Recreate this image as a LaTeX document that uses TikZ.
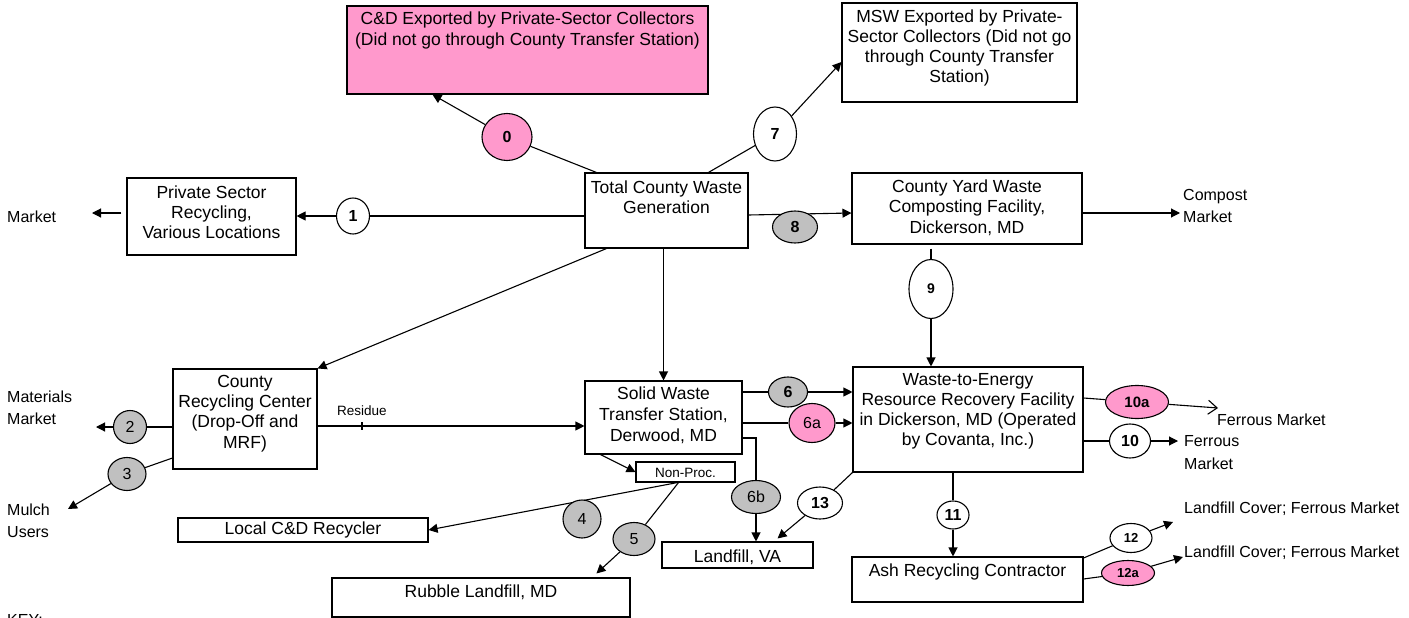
\documentclass[tikz,border=0pt]{standalone}
\usepackage{fontspec}
\setmainfont{Liberation Sans}
\usetikzlibrary{shapes.geometric,arrows.meta,calc}
\pgfdeclarelayer{bg}
\pgfsetlayers{bg,main}
\definecolor{pinkf}{HTML}{FF99CC}
\definecolor{grayf}{HTML}{C0C0C0}
\newcommand\fsz[2]{\fontsize{#1}{#2}\selectfont}
\tikzset{
  box/.style={draw, line width=1.1pt, inner sep=0pt, fill=white},
  bsz/.style 2 args={minimum width=#1pt, minimum height=#2pt},
  txt/.style={font=\fsz{17.5}{20.5}, align=center, inner sep=0pt},
  lab/.style={font=\fsz{16}{22}, align=left, inner sep=0pt, anchor=west},
  num/.style={ellipse, draw, line width=1.1pt, inner sep=0pt, fill=white, font=\bfseries\fsz{16}{16}},
  nrm/.style={font=\fsz{16}{16}},
  arr/.style={line width=1.1pt, -{Triangle[length=9pt,width=9pt]}},
  ln/.style={line width=1.1pt},
}
\begin{document}
\begin{tikzpicture}[x=1pt,y=-1pt]
\useasboundingbox (0,0) rectangle (1409,618);

% boxes
\node[box, bsz={361}{88}, fill=pinkf] (cd) at (527.5,50) {};
\node[box, bsz={235}{99}] (msw) at (959.5,52.5) {};
\node[box, bsz={163}{75}] (tcw) at (666.5,210.5) {};
\node[box, bsz={169}{77}] (psr) at (211.5,216.5) {};
\node[box, bsz={230}{71}] (cy) at (967,208.5) {};
\node[box, bsz={230}{105}] (wte) at (968,419.5) {};
\node[box, bsz={157}{73}] (ws) at (663.5,417.5) {};
\node[box, bsz={144}{100}] (crc) at (245,419) {};
\node[box, bsz={99}{20}] (np) at (685.5,472) {};
\node[box, bsz={250}{24}] (lcd) at (303,530) {};
\node[box, bsz={298}{39}] (rub) at (481,597.5) {};
\node[box, bsz={151}{26}] (lva) at (737.5,555) {};
\node[box, bsz={231}{45}] (ash) at (967.5,579.5) {};

% box texts
\node[txt] (cdt) at (527.5,30.5) {C\&D Exported by Private-Sector Collectors\\(Did not go through County Transfer Station)};
\node[txt, font=\fsz{17.5}{20}] (mswt) at (959.5,48) {MSW Exported by Private-\\Sector Collectors (Did not go\\through County Transfer\\Station)};
\node[txt] (tcwt) at (666.5,197) {Total County Waste\\Generation};
\node[txt, font=\fsz{17.5}{20}] (psrt) at (211.5,212) {Private Sector\\Recycling,\\Various Locations};
\node[txt] (cyt) at (967,207.5) {County Yard Waste\\Composting Facility,\\Dickerson, MD};
\node[txt, font=\fsz{17.5}{20}] (wtet) at (968,411) {Waste-to-Energy\\Resource Recovery Facility\\in Dickerson, MD (Operated\\by Covanta, Inc.)};
\node[txt, font=\fsz{17.5}{21}] (wst) at (663.5,415) {Solid Waste\\Transfer Station,\\Derwood, MD};
\node[txt, font=\fsz{17.5}{20.3}] (crct) at (245,413.5) {County\\Recycling Center\\(Drop-Off and\\MRF)};
\node[txt, font=\fsz{13.5}{14}] (npt) at (685.5,473) {Non-Proc.};
\node[txt] (lcdt) at (303,530) {Local C\&D Recycler};
\node[txt] (rubt) at (481,592) {Rubble Landfill, MD};
\node[txt] (lvat) at (737.5,557) {Landfill, VA};
\node[txt] (asht) at (967.5,572) {Ash Recycling Contractor};

% side labels
\node[lab] (mkt) at (7,217) {Market};
\node[lab] (cmp) at (1183,206) {Compost\\Market};
\node[lab] (mat) at (7,408) {Materials\\Market};
\node[lab] (mul) at (7,520.5) {Mulch\\Users};
\node[lab] (fm1) at (1217,420) {Ferrous Market};
\node[lab, font=\fsz{16}{23}] (fm2) at (1184,452.5) {Ferrous\\Market};
\node[lab] (lc1) at (1184,509) {Landfill Cover; Ferrous Market};
\node[lab] (lc2) at (1184,553) {Landfill Cover; Ferrous Market};
\node[lab] (key) at (7,620) {KEY:};
\node[txt, font=\fsz{13.5}{14}] (resl) at (362,411) {Residue};

% numbered ellipses
\node[num, fill=pinkf, bsz={50}{47}] (c0) at (507,137) {0};
\node[num, bsz={33}{36}] (c1) at (353,216) {1};
\node[num, bsz={43}{54}] (c7) at (775,134) {7};
\node[num, fill=grayf, bsz={45}{32}] (c8) at (795,227) {8};
\node[num, bsz={44}{59}, font=\bfseries\fsz{14}{14}] (c9) at (931,289) {9};
\node[num, fill=grayf, bsz={33}{33}, nrm] (c2) at (130,427) {2};
\node[num, fill=grayf, bsz={38}{33}, nrm] (c3) at (127,474) {3};
\node[num, fill=grayf, bsz={38}{38}, nrm] (c4) at (582,519) {4};
\node[num, fill=grayf, bsz={42}{33}, nrm] (c5) at (634,539) {5};
\node[num, fill=grayf, bsz={39}{30}] (c6) at (788,392) {6};
\node[num, fill=pinkf, bsz={46}{39}, nrm] (c6a) at (812,423) {6a};
\node[num, fill=grayf, bsz={49}{33}, nrm] (c6b) at (756,497) {6b};
\node[num, bsz={45}{32}] (c13) at (820,503) {13};
\node[num, fill=pinkf, bsz={63}{33}, font=\bfseries\fsz{15}{15}] (c10a) at (1137,402) {10a};
\node[num, bsz={41}{34}] (c10) at (1130,441) {10};
\node[num, bsz={32}{28}] (c11) at (953,515) {11};
\node[num, bsz={42}{29}, font=\bfseries\fsz{13}{13}] (c12) at (1131,538) {12};
\node[num, fill=pinkf, bsz={53}{25}, font=\bfseries\fsz{13}{13}] (c12a) at (1128,573) {12a};

% free ends
\coordinate (eMk) at (92,213);
\coordinate (eCmp) at (1180,213);
\coordinate (eMat) at (96,427);
\coordinate (eMul) at (68,509);
\coordinate (eF1) at (1218,408);
\coordinate (eF2) at (1178,441);
\coordinate (eL1) at (1173,522);
\coordinate (eL2) at (1183,557);

\begin{pgfonlayer}{bg}
\fill[white] (0,0) rectangle (1409,618);
\draw[arr] ([xshift=12pt]tcw.north west) -- (c0) -- ([xshift=86pt]cd.south west);
\draw[arr] (tcw.west |- c1) -- (c1) -- (psr.east |- c1);
\draw[arr] ($(psr.west |- 0,213)+(-5,0)$) -- (eMk);
\draw[arr] ([xshift=124pt]tcw.north west) -- (c7) -- (msw.west |- 0,62);
\draw[arr] (tcw.east |- 0,215) -- (cy.west |- 0,213);
\draw[arr] (cy.east |- 0,213) -- (eCmp);
\draw[arr] ($(c9 |- cy.south)+(0,4)$) -- (c9) -- (c9 |- wte.north);
\draw[arr] ([xshift=22pt]tcw.south west) -- (crc.north east);
\draw[arr] (ws.north |- tcw.south) -- (ws.north);
\draw[arr] (crc.east |- 0,426) -- (ws.west |- 0,426);
\draw[ln] (362,422) -- (362,430);
\draw[arr] (crc.west |- c2) -- (c2) -- (eMat);
\draw[arr] (crc.west |- 0,458) -- (c3) -- (eMul);
\draw[arr] ([xshift=16pt]ws.south west) -- (np.west);
\draw[arr] ($(np.south)+(-8,0)$) -- (lcd.east);
\draw[arr] ($(np.south)+(-7,0)$) -- (c5) -- ($(rub.north west)+(265,-4)$);
\draw[arr] (ws.east |- c6) -- (c6) -- (wte.west |- c6);
\draw[arr] (ws.east |- c6a) -- (c6a) -- (wte.west |- c6a);
\draw[arr] (ws.east |- 0,438) -| (c6b) -- (c6b |- lva.north);
\draw[arr] (wte.south west) -- (c13) -- ($(lva.north east)+(-36,-3)$);
\draw[ln, -{Straight Barb[length=9pt,width=14pt]}] (wte.east |- 0,398) -- (c10a) -- (eF1);
\draw[arr] (wte.east |- c10) -- (c10) -- (eF2);
\draw[arr] (c11 |- wte.south) -- (c11) -- (c11 |- ash.north);
\draw[arr] (ash.east |- 0,558) -- (c12) -- (eL1);
\draw[arr] (ash.east |- 0,579) -- (c12a) -- (eL2);
\end{pgfonlayer}
\end{tikzpicture}
\end{document}
